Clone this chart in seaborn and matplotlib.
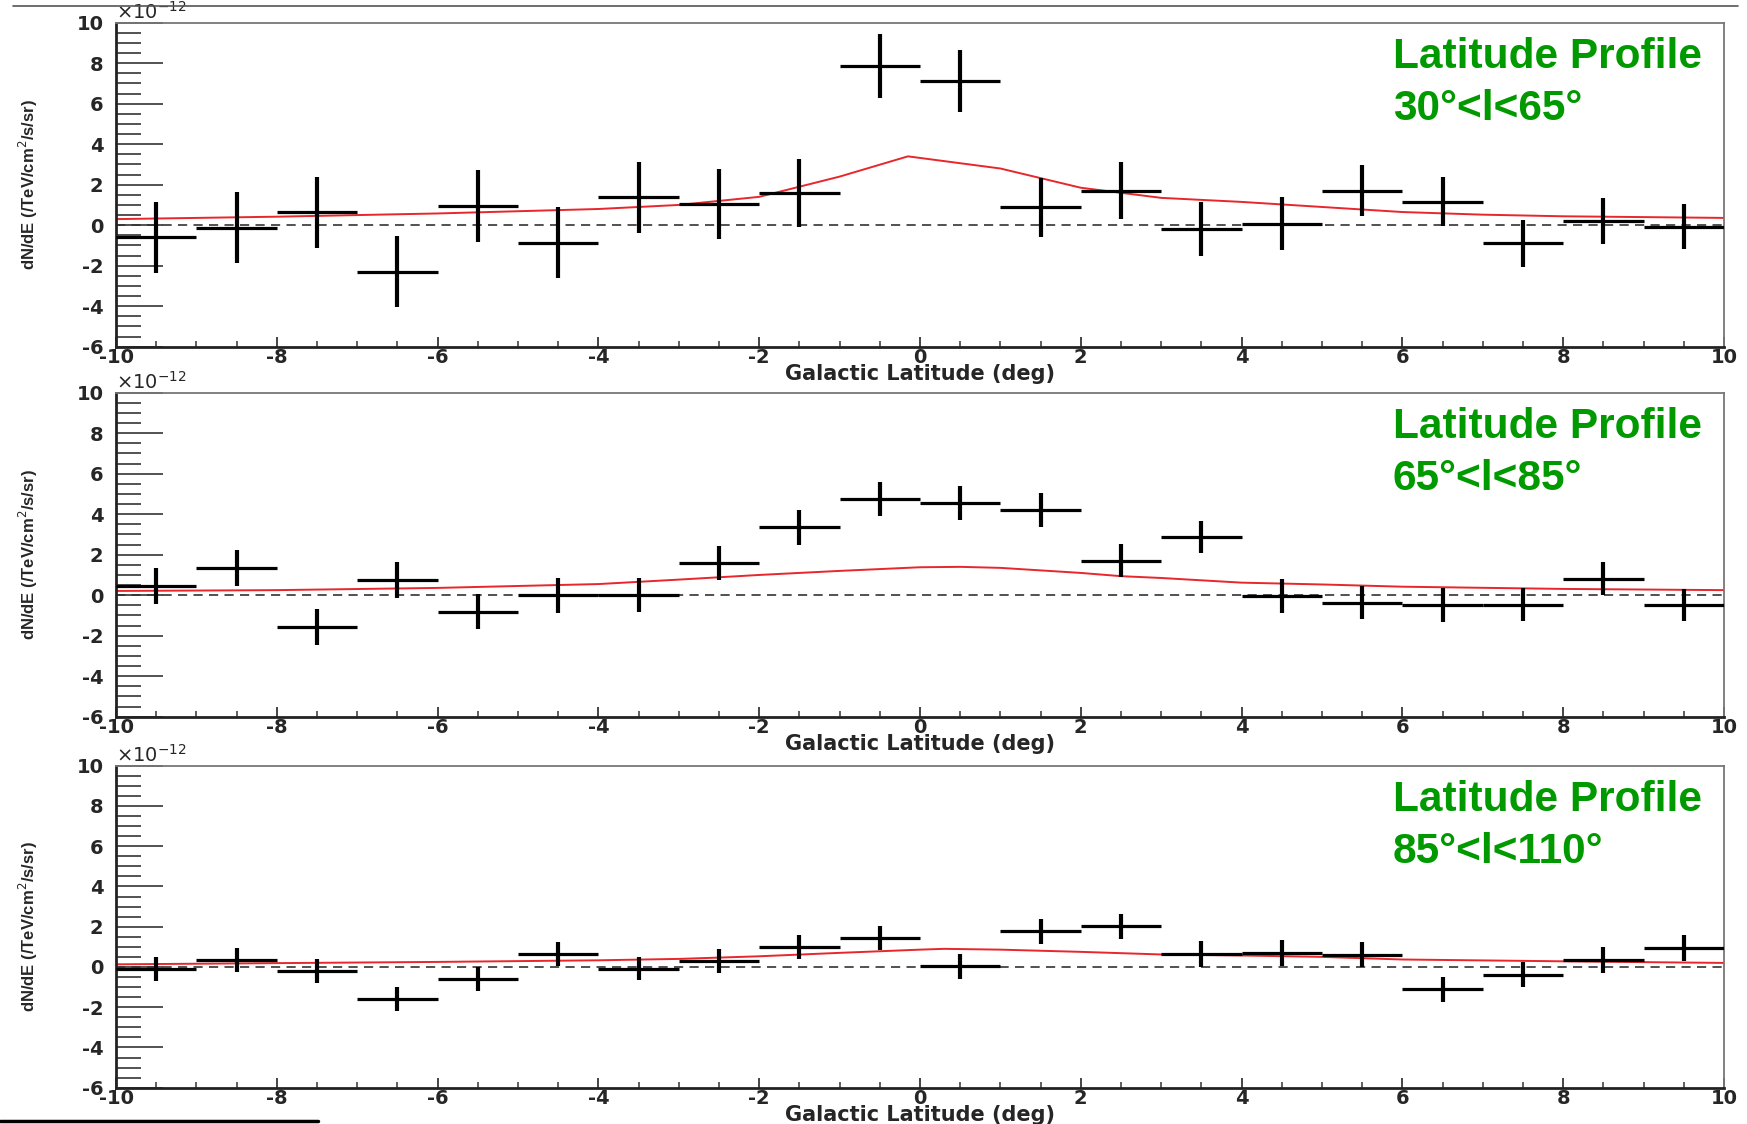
import numpy as np
import pandas as pd
import matplotlib
matplotlib.use("Agg")
import matplotlib.pyplot as plt
from matplotlib.lines import Line2D
from matplotlib.ticker import MultipleLocator
import seaborn as sns

# bin centres (deg)
latitude = [-9.5, -8.5, -7.5, -6.5, -5.5, -4.5, -3.5, -2.5, -1.5, -0.5,
            0.5, 1.5, 2.5, 3.5, 4.5, 5.5, 6.5, 7.5, 8.5, 9.5]

# flux in units of 1e-12 /TeV/cm2/s/sr
flux_30_65 = [-0.6, -0.13, 0.63, -2.29, 0.95, -0.86, 1.38, 1.04, 1.58, 7.86,
              7.11, 0.89, 1.71, -0.2, 0.07, 1.71, 1.17, -0.89, 0.2, -0.07]
err_30_65 = [1.77, 1.76, 1.75, 1.75, 1.77, 1.77, 1.75, 1.74, 1.67, 1.6,
             1.53, 1.46, 1.4, 1.34, 1.3, 1.26, 1.22, 1.17, 1.15, 1.12]

flux_65_85 = [0.46, 1.33, -1.56, 0.74, -0.82, 0.0, 0.02, 1.59, 3.35, 4.75,
              4.57, 4.22, 1.71, 2.86, -0.05, -0.38, -0.48, -0.46, 0.82, -0.48]
err_65_85 = [0.88, 0.9, 0.88, 0.89, 0.86, 0.87, 0.83, 0.85, 0.85, 0.84,
             0.84, 0.84, 0.82, 0.8, 0.83, 0.82, 0.82, 0.82, 0.82, 0.8]

flux_85_110 = [-0.12, 0.33, -0.22, -1.58, -0.61, 0.65, -0.08, 0.28, 1.0, 1.44,
               0.03, 1.77, 2.02, 0.66, 0.7, 0.61, -1.12, -0.38, 0.35, 0.95]
err_85_110 = [0.6, 0.6, 0.6, 0.6, 0.6, 0.6, 0.59, 0.6, 0.6, 0.61,
              0.61, 0.61, 0.62, 0.65, 0.65, 0.62, 0.63, 0.62, 0.63, 0.65]

# model curves (red)
model_x_30_65 = [-10, -8, -6, -4, -3, -2, -1, -0.15, 1, 2, 3, 4, 5, 6, 7, 8, 9, 10]
model_y_30_65 = [0.3, 0.42, 0.58, 0.8, 1.0, 1.4, 2.4, 3.4, 2.8, 1.85, 1.35, 1.15,
                 0.9, 0.65, 0.52, 0.44, 0.4, 0.36]
model_x_65_85 = [-10, -8, -6, -4, -3, -2, -1, 0, 0.5, 1, 2, 2.5, 3, 4, 5, 6, 8, 10]
model_y_65_85 = [0.21, 0.25, 0.36, 0.55, 0.77, 1.0, 1.2, 1.38, 1.4, 1.35, 1.1,
                 0.94, 0.85, 0.62, 0.53, 0.42, 0.31, 0.25]
model_x_85_110 = [-10, -6, -4, -3, -2, -1, 0, 0.3, 1, 2, 3, 4, 5, 6, 8, 10]
model_y_85_110 = [0.13, 0.25, 0.33, 0.4, 0.53, 0.7, 0.86, 0.9, 0.86, 0.75, 0.62,
                  0.57, 0.5, 0.37, 0.28, 0.2]

labels = ["Latitude Profile\n30°<l<65°",
          "Latitude Profile\n65°<l<85°",
          "Latitude Profile\n85°<l<110°"]

panels = [
    (flux_30_65, err_30_65, model_x_30_65, model_y_30_65, labels[0]),
    (flux_65_85, err_65_85, model_x_65_85, model_y_65_85, labels[1]),
    (flux_85_110, err_85_110, model_x_85_110, model_y_85_110, labels[2]),
]

sns.set_style("white")
plt.rcParams['font.family'] = ['DejaVu Sans']
plt.rcParams['axes.unicode_minus'] = False

fig = plt.figure(figsize=(17.47, 11.24), dpi=100)

W, H = 1747.0, 1124.0
left = 116 / W
width = (1724 - 116) / W
boxes = [(22.7, 346.7), (392.7, 716.7), (765.7, 1087.7)]

for (flux, err, mx, my, label), (top, bot) in zip(panels, boxes):
    ax = fig.add_axes([left, 1 - bot / H, width, (bot - top) / H])

    ax.axhline(0, color='#333333', lw=1.2, ls=(0, (5.5, 3.8)), zorder=1)
    sns.lineplot(x=mx, y=my, ax=ax, color='#e8262b', lw=1.4, zorder=2)
    ax.errorbar(latitude, flux, yerr=err, fmt='none', ecolor='black',
                elinewidth=3.0, capsize=0, zorder=3)
    ax.errorbar(latitude, flux, xerr=0.5, fmt='none', ecolor='black',
                elinewidth=2.3, capsize=0, zorder=3)

    ax.set_xlim(-10, 10)
    ax.set_ylim(-6, 10)
    ax.xaxis.set_major_locator(MultipleLocator(2))
    ax.xaxis.set_minor_locator(MultipleLocator(0.5))
    ax.yaxis.set_major_locator(MultipleLocator(2))
    ax.yaxis.set_minor_locator(MultipleLocator(0.5))

    # ROOT-style inward ticks on left and bottom only
    ax.tick_params(axis='y', which='major', direction='in', length=34, width=1.3,
                   color='#444444', pad=9, labelsize=14, left=True, right=False)
    ax.tick_params(axis='y', which='minor', direction='in', length=18, width=1.3,
                   color='#444444', left=True, right=False)
    ax.tick_params(axis='x', which='major', direction='in', length=7, width=1.4,
                   color='#444444', pad=1, labelsize=14, bottom=True, top=False)
    ax.tick_params(axis='x', which='minor', direction='in', length=4, width=1.2,
                   color='#444444', bottom=True, top=False)
    for t in ax.get_xticklabels() + ax.get_yticklabels():
        t.set_fontweight('bold')

    for side in ['left', 'bottom']:
        ax.spines[side].set_color('#222222')
        ax.spines[side].set_linewidth(2.0)
    for side in ['top', 'right']:
        ax.spines[side].set_color('#777777')
        ax.spines[side].set_linewidth(1.3)

    ax.set_xlabel("Galactic Latitude (deg)", fontsize=15, fontweight='bold', labelpad=-2)
    ax.set_ylabel("")
    fig.text(0.0165, 1 - (top + bot) / 2 / H, r"dN/dE (/TeV/cm$^{2}$/s/sr)",
             rotation=90, ha='center', va='center', fontsize=12, fontweight='bold',
             family=['DejaVu Sans Condensed', 'Liberation Sans', 'DejaVu Sans'])

    ax.text(0.0, 1.0, r"$\times$10$^{-12}$", transform=ax.transAxes,
            ha='left', va='bottom', fontsize=14)

    ax.text(0.794, 0.955, label, transform=ax.transAxes, ha='left', va='top',
            fontsize=30.5, fontweight='bold', color='#009a00', linespacing=1.38,
            family=['Liberation Sans', 'DejaVu Sans'])

# slide decorations
fig.add_artist(Line2D([13 / W, 1738 / W], [1 - 6 / H, 1 - 6 / H],
                      color='#555555', lw=1.2))
fig.add_artist(Line2D([0, 318 / W], [1 - 1121 / H, 1 - 1121 / H],
                      color='black', lw=2.5))

fig.savefig("out.png", dpi=100)
